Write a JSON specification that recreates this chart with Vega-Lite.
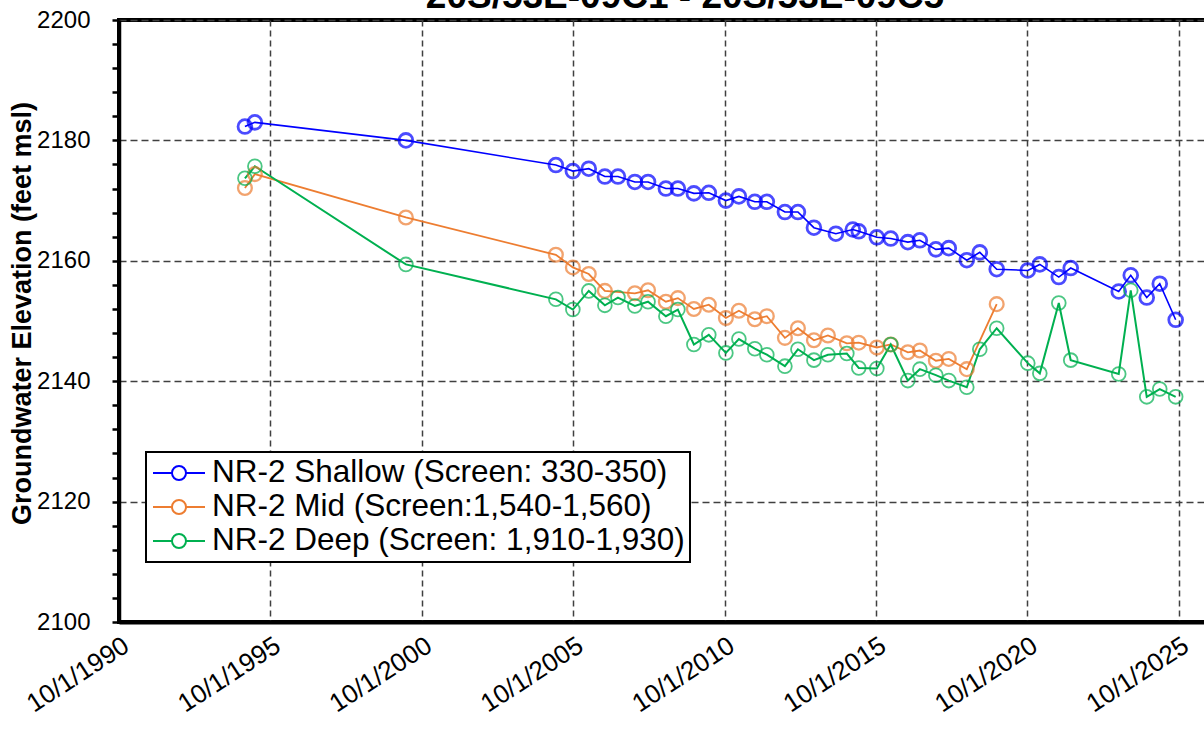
{
  "$schema": "https://vega.github.io/schema/vega-lite/v6.json",
  "autosize": {"type": "none"},
  "padding": {"left": 119, "top": 20, "right": -5, "bottom": 108},
  "width": 1090,
  "height": 602,
  "background": "white",
  "config": {
    "font": "Liberation Sans",
    "view": {"stroke": "black", "strokeWidth": 4}
  },
  "title": {
    "text": "20S/53E-09C1 - 20S/53E-09C5",
    "font": "Liberation Sans",
    "fontSize": 37,
    "fontWeight": "bold",
    "color": "black",
    "anchor": "middle",
    "frame": "group",
    "dx": 21,
    "baseline": "alphabetic",
    "offset": -37
  },
  "data": {
    "values": [
      {"series": "NR-2 Shallow (Screen: 330-350)", "date": "1994-11-28", "elev": 2182.3},
      {"series": "NR-2 Shallow (Screen: 330-350)", "date": "1995-03-28", "elev": 2183.0},
      {"series": "NR-2 Shallow (Screen: 330-350)", "date": "2000-03-23", "elev": 2180.0},
      {"series": "NR-2 Shallow (Screen: 330-350)", "date": "2005-03-06", "elev": 2175.9},
      {"series": "NR-2 Shallow (Screen: 330-350)", "date": "2005-09-27", "elev": 2174.9},
      {"series": "NR-2 Shallow (Screen: 330-350)", "date": "2006-04-07", "elev": 2175.3},
      {"series": "NR-2 Shallow (Screen: 330-350)", "date": "2006-10-18", "elev": 2174.0},
      {"series": "NR-2 Shallow (Screen: 330-350)", "date": "2007-03-25", "elev": 2174.0},
      {"series": "NR-2 Shallow (Screen: 330-350)", "date": "2007-10-15", "elev": 2173.1},
      {"series": "NR-2 Shallow (Screen: 330-350)", "date": "2008-03-22", "elev": 2173.1},
      {"series": "NR-2 Shallow (Screen: 330-350)", "date": "2008-10-23", "elev": 2172.0},
      {"series": "NR-2 Shallow (Screen: 330-350)", "date": "2009-03-17", "elev": 2172.0},
      {"series": "NR-2 Shallow (Screen: 330-350)", "date": "2009-09-26", "elev": 2171.2},
      {"series": "NR-2 Shallow (Screen: 330-350)", "date": "2010-03-25", "elev": 2171.3},
      {"series": "NR-2 Shallow (Screen: 330-350)", "date": "2010-10-17", "elev": 2170.0},
      {"series": "NR-2 Shallow (Screen: 330-350)", "date": "2011-03-23", "elev": 2170.7},
      {"series": "NR-2 Shallow (Screen: 330-350)", "date": "2011-10-01", "elev": 2169.8},
      {"series": "NR-2 Shallow (Screen: 330-350)", "date": "2012-02-23", "elev": 2169.8},
      {"series": "NR-2 Shallow (Screen: 330-350)", "date": "2012-09-28", "elev": 2168.1},
      {"series": "NR-2 Shallow (Screen: 330-350)", "date": "2013-03-04", "elev": 2168.1},
      {"series": "NR-2 Shallow (Screen: 330-350)", "date": "2013-09-13", "elev": 2165.5},
      {"series": "NR-2 Shallow (Screen: 330-350)", "date": "2014-06-05", "elev": 2164.5},
      {"series": "NR-2 Shallow (Screen: 330-350)", "date": "2014-12-26", "elev": 2165.2},
      {"series": "NR-2 Shallow (Screen: 330-350)", "date": "2015-03-08", "elev": 2164.9},
      {"series": "NR-2 Shallow (Screen: 330-350)", "date": "2015-10-12", "elev": 2163.9},
      {"series": "NR-2 Shallow (Screen: 330-350)", "date": "2016-03-28", "elev": 2163.7},
      {"series": "NR-2 Shallow (Screen: 330-350)", "date": "2016-10-20", "elev": 2163.1},
      {"series": "NR-2 Shallow (Screen: 330-350)", "date": "2017-03-14", "elev": 2163.4},
      {"series": "NR-2 Shallow (Screen: 330-350)", "date": "2017-09-23", "elev": 2161.9},
      {"series": "NR-2 Shallow (Screen: 330-350)", "date": "2018-02-26", "elev": 2162.1},
      {"series": "NR-2 Shallow (Screen: 330-350)", "date": "2018-10-01", "elev": 2160.1},
      {"series": "NR-2 Shallow (Screen: 330-350)", "date": "2019-03-07", "elev": 2161.4},
      {"series": "NR-2 Shallow (Screen: 330-350)", "date": "2019-09-27", "elev": 2158.6},
      {"series": "NR-2 Shallow (Screen: 330-350)", "date": "2020-10-06", "elev": 2158.4},
      {"series": "NR-2 Shallow (Screen: 330-350)", "date": "2021-02-28", "elev": 2159.4},
      {"series": "NR-2 Shallow (Screen: 330-350)", "date": "2021-10-15", "elev": 2157.3},
      {"series": "NR-2 Shallow (Screen: 330-350)", "date": "2022-03-08", "elev": 2158.8},
      {"series": "NR-2 Shallow (Screen: 330-350)", "date": "2023-10-08", "elev": 2154.9},
      {"series": "NR-2 Shallow (Screen: 330-350)", "date": "2024-03-01", "elev": 2157.6},
      {"series": "NR-2 Shallow (Screen: 330-350)", "date": "2024-09-10", "elev": 2153.9},
      {"series": "NR-2 Shallow (Screen: 330-350)", "date": "2025-02-14", "elev": 2156.2},
      {"series": "NR-2 Shallow (Screen: 330-350)", "date": "2025-08-25", "elev": 2150.2},

      {"series": "NR-2 Mid (Screen:1,540-1,560)", "date": "1994-11-28", "elev": 2172.1},
      {"series": "NR-2 Mid (Screen:1,540-1,560)", "date": "1995-03-28", "elev": 2174.4},
      {"series": "NR-2 Mid (Screen:1,540-1,560)", "date": "2000-03-23", "elev": 2167.2},
      {"series": "NR-2 Mid (Screen:1,540-1,560)", "date": "2005-03-06", "elev": 2161.0},
      {"series": "NR-2 Mid (Screen:1,540-1,560)", "date": "2005-09-27", "elev": 2158.9},
      {"series": "NR-2 Mid (Screen:1,540-1,560)", "date": "2006-04-07", "elev": 2157.8},
      {"series": "NR-2 Mid (Screen:1,540-1,560)", "date": "2006-10-18", "elev": 2155.0},
      {"series": "NR-2 Mid (Screen:1,540-1,560)", "date": "2007-10-15", "elev": 2154.6},
      {"series": "NR-2 Mid (Screen:1,540-1,560)", "date": "2008-03-22", "elev": 2155.1},
      {"series": "NR-2 Mid (Screen:1,540-1,560)", "date": "2008-10-23", "elev": 2153.2},
      {"series": "NR-2 Mid (Screen:1,540-1,560)", "date": "2009-03-17", "elev": 2153.8},
      {"series": "NR-2 Mid (Screen:1,540-1,560)", "date": "2009-09-26", "elev": 2152.0},
      {"series": "NR-2 Mid (Screen:1,540-1,560)", "date": "2010-03-25", "elev": 2152.7},
      {"series": "NR-2 Mid (Screen:1,540-1,560)", "date": "2010-10-17", "elev": 2150.5},
      {"series": "NR-2 Mid (Screen:1,540-1,560)", "date": "2011-03-23", "elev": 2151.7},
      {"series": "NR-2 Mid (Screen:1,540-1,560)", "date": "2011-10-01", "elev": 2150.3},
      {"series": "NR-2 Mid (Screen:1,540-1,560)", "date": "2012-02-23", "elev": 2150.8},
      {"series": "NR-2 Mid (Screen:1,540-1,560)", "date": "2012-09-28", "elev": 2147.2},
      {"series": "NR-2 Mid (Screen:1,540-1,560)", "date": "2013-03-04", "elev": 2148.8},
      {"series": "NR-2 Mid (Screen:1,540-1,560)", "date": "2013-09-13", "elev": 2146.8},
      {"series": "NR-2 Mid (Screen:1,540-1,560)", "date": "2014-03-01", "elev": 2147.6},
      {"series": "NR-2 Mid (Screen:1,540-1,560)", "date": "2014-10-15", "elev": 2146.3},
      {"series": "NR-2 Mid (Screen:1,540-1,560)", "date": "2015-03-08", "elev": 2146.4},
      {"series": "NR-2 Mid (Screen:1,540-1,560)", "date": "2015-10-12", "elev": 2145.6},
      {"series": "NR-2 Mid (Screen:1,540-1,560)", "date": "2016-03-28", "elev": 2146.1},
      {"series": "NR-2 Mid (Screen:1,540-1,560)", "date": "2016-10-20", "elev": 2144.8},
      {"series": "NR-2 Mid (Screen:1,540-1,560)", "date": "2017-03-14", "elev": 2145.1},
      {"series": "NR-2 Mid (Screen:1,540-1,560)", "date": "2017-09-23", "elev": 2143.4},
      {"series": "NR-2 Mid (Screen:1,540-1,560)", "date": "2018-02-26", "elev": 2143.7},
      {"series": "NR-2 Mid (Screen:1,540-1,560)", "date": "2018-10-01", "elev": 2142.0},
      {"series": "NR-2 Mid (Screen:1,540-1,560)", "date": "2019-09-27", "elev": 2152.8},

      {"series": "NR-2 Deep (Screen: 1,910-1,930)", "date": "1994-11-28", "elev": 2173.7},
      {"series": "NR-2 Deep (Screen: 1,910-1,930)", "date": "1995-03-28", "elev": 2175.7},
      {"series": "NR-2 Deep (Screen: 1,910-1,930)", "date": "2000-03-23", "elev": 2159.4},
      {"series": "NR-2 Deep (Screen: 1,910-1,930)", "date": "2005-03-06", "elev": 2153.6},
      {"series": "NR-2 Deep (Screen: 1,910-1,930)", "date": "2005-09-27", "elev": 2151.9},
      {"series": "NR-2 Deep (Screen: 1,910-1,930)", "date": "2006-04-07", "elev": 2155.0},
      {"series": "NR-2 Deep (Screen: 1,910-1,930)", "date": "2006-10-18", "elev": 2152.6},
      {"series": "NR-2 Deep (Screen: 1,910-1,930)", "date": "2007-03-25", "elev": 2153.9},
      {"series": "NR-2 Deep (Screen: 1,910-1,930)", "date": "2007-10-15", "elev": 2152.5},
      {"series": "NR-2 Deep (Screen: 1,910-1,930)", "date": "2008-03-22", "elev": 2153.2},
      {"series": "NR-2 Deep (Screen: 1,910-1,930)", "date": "2008-10-23", "elev": 2150.8},
      {"series": "NR-2 Deep (Screen: 1,910-1,930)", "date": "2009-03-17", "elev": 2151.9},
      {"series": "NR-2 Deep (Screen: 1,910-1,930)", "date": "2009-09-26", "elev": 2146.1},
      {"series": "NR-2 Deep (Screen: 1,910-1,930)", "date": "2010-03-25", "elev": 2147.7},
      {"series": "NR-2 Deep (Screen: 1,910-1,930)", "date": "2010-10-17", "elev": 2144.7},
      {"series": "NR-2 Deep (Screen: 1,910-1,930)", "date": "2011-03-23", "elev": 2147.0},
      {"series": "NR-2 Deep (Screen: 1,910-1,930)", "date": "2011-10-01", "elev": 2145.4},
      {"series": "NR-2 Deep (Screen: 1,910-1,930)", "date": "2012-02-23", "elev": 2144.4},
      {"series": "NR-2 Deep (Screen: 1,910-1,930)", "date": "2012-09-28", "elev": 2142.5},
      {"series": "NR-2 Deep (Screen: 1,910-1,930)", "date": "2013-03-04", "elev": 2145.3},
      {"series": "NR-2 Deep (Screen: 1,910-1,930)", "date": "2013-09-13", "elev": 2143.5},
      {"series": "NR-2 Deep (Screen: 1,910-1,930)", "date": "2014-03-01", "elev": 2144.4},
      {"series": "NR-2 Deep (Screen: 1,910-1,930)", "date": "2014-10-15", "elev": 2144.6},
      {"series": "NR-2 Deep (Screen: 1,910-1,930)", "date": "2015-03-08", "elev": 2142.2},
      {"series": "NR-2 Deep (Screen: 1,910-1,930)", "date": "2015-10-12", "elev": 2142.1},
      {"series": "NR-2 Deep (Screen: 1,910-1,930)", "date": "2016-03-28", "elev": 2146.1},
      {"series": "NR-2 Deep (Screen: 1,910-1,930)", "date": "2016-10-20", "elev": 2140.1},
      {"series": "NR-2 Deep (Screen: 1,910-1,930)", "date": "2017-03-14", "elev": 2142.0},
      {"series": "NR-2 Deep (Screen: 1,910-1,930)", "date": "2017-09-23", "elev": 2141.0},
      {"series": "NR-2 Deep (Screen: 1,910-1,930)", "date": "2018-02-26", "elev": 2140.1},
      {"series": "NR-2 Deep (Screen: 1,910-1,930)", "date": "2018-10-01", "elev": 2139.0},
      {"series": "NR-2 Deep (Screen: 1,910-1,930)", "date": "2019-03-07", "elev": 2145.3},
      {"series": "NR-2 Deep (Screen: 1,910-1,930)", "date": "2019-09-27", "elev": 2148.8},
      {"series": "NR-2 Deep (Screen: 1,910-1,930)", "date": "2020-10-06", "elev": 2143.0},
      {"series": "NR-2 Deep (Screen: 1,910-1,930)", "date": "2021-02-28", "elev": 2141.3},
      {"series": "NR-2 Deep (Screen: 1,910-1,930)", "date": "2021-10-15", "elev": 2153.0},
      {"series": "NR-2 Deep (Screen: 1,910-1,930)", "date": "2022-03-08", "elev": 2143.5},
      {"series": "NR-2 Deep (Screen: 1,910-1,930)", "date": "2023-10-08", "elev": 2141.2},
      {"series": "NR-2 Deep (Screen: 1,910-1,930)", "date": "2024-03-01", "elev": 2155.1},
      {"series": "NR-2 Deep (Screen: 1,910-1,930)", "date": "2024-09-10", "elev": 2137.4},
      {"series": "NR-2 Deep (Screen: 1,910-1,930)", "date": "2025-02-14", "elev": 2138.7},
      {"series": "NR-2 Deep (Screen: 1,910-1,930)", "date": "2025-08-25", "elev": 2137.4}
    ]
  },
  "encoding": {
    "x": {
      "field": "date",
      "type": "temporal",
      "scale": {
        "type": "utc",
        "domain": [
          {"year": 1990, "month": 10, "date": 1, "utc": true},
          {"year": 2026, "month": 10, "date": 1, "utc": true}
        ]
      },
      "axis": {
        "title": null,
        "values": [
          {"year": 1990, "month": 10, "date": 1, "utc": true},
          {"year": 1995, "month": 10, "date": 1, "utc": true},
          {"year": 2000, "month": 10, "date": 1, "utc": true},
          {"year": 2005, "month": 10, "date": 1, "utc": true},
          {"year": 2010, "month": 10, "date": 1, "utc": true},
          {"year": 2015, "month": 10, "date": 1, "utc": true},
          {"year": 2020, "month": 10, "date": 1, "utc": true},
          {"year": 2025, "month": 10, "date": 1, "utc": true}
        ],
        "labelExpr": "utcFormat(datum.value, '%-m/%-d/%Y')",
        "labelAngle": -33,
        "labelFont": "Liberation Sans",
        "labelFontSize": 26,
        "labelColor": "black",
        "labelPadding": 10,
        "labelBound": false,
        "labelOverlap": false,
        "labelFlush": false,
        "ticks": false,
        "domainColor": "black",
        "domainWidth": 4,
        "grid": true,
        "gridColor": "#404040",
        "gridDash": [6, 4],
        "gridWidth": 1.5
      }
    },
    "y": {
      "field": "elev",
      "type": "quantitative",
      "scale": {"domain": [2100, 2200], "nice": false, "zero": false},
      "axis": {
        "title": "Groundwater Elevation (feet msl)",
        "titleFont": "Liberation Sans",
        "titleFontSize": 27,
        "titleFontWeight": "bold",
        "titleColor": "black",
        "titleX": -97,
        "titleY": 293,
        "titleAngle": 270,
        "titleAlign": "center",
        "titleBaseline": "middle",
        "values": [2100, 2104, 2108, 2112, 2116, 2120, 2124, 2128, 2132, 2136, 2140, 2144, 2148, 2152, 2156, 2160, 2164, 2168, 2172, 2176, 2180, 2184, 2188, 2192, 2196, 2200],
        "labelExpr": "datum.value % 20 === 0 ? '' + datum.value : ''",
        "labelFont": "Liberation Sans",
        "labelFontSize": 24,
        "labelColor": "black",
        "labelPadding": 22,
        "labelOverlap": false,
        "labelBound": false,
        "tickSize": 7,
        "tickWidth": 2.5,
        "tickColor": "black",
        "domainColor": "black",
        "domainWidth": 3.5,
        "grid": true,
        "gridColor": "#404040",
        "gridDash": [7, 4],
        "gridWidth": 1.5,
        "gridOpacity": {"condition": {"test": "datum.value % 20 === 0", "value": 1}, "value": 0}
      }
    },
    "color": {
      "field": "series",
      "type": "nominal",
      "scale": {
        "domain": ["NR-2 Shallow (Screen: 330-350)", "NR-2 Mid (Screen:1,540-1,560)", "NR-2 Deep (Screen: 1,910-1,930)"],
        "range": ["#0000FF", "#ED7D31", "#00B050"]
      },
      "legend": {
        "title": null,
        "orient": "none",
        "legendX": 27,
        "legendY": 432,
        "direction": "vertical",
        "fillColor": "white",
        "strokeColor": "black",
        "padding": 5,
        "rowPadding": 2,
        "labelFont": "Liberation Sans",
        "labelFontSize": 31.5,
        "labelColor": "black",
        "labelOffset": 17,
        "labelLimit": 800,
        "symbolType": "M-1.733,0L-0.467,0M0.467,0L1.733,0M0.467,0A0.467,0.467 0 1 1 -0.467,0A0.467,0.467 0 1 1 0.467,0",
        "symbolSize": 900,
        "symbolOffset": 12,
        "symbolStrokeWidth": 2,
        "symbolFillColor": "transparent",
        "encode": {
          "legend": {"update": {"strokeWidth": {"value": 2}}}
        }
      }
    }
  },
  "layer": [
    {
      "mark": {"type": "line", "clip": true},
      "encoding": {
        "strokeWidth": {
          "field": "series",
          "type": "nominal",
          "scale": {
            "domain": ["NR-2 Shallow (Screen: 330-350)", "NR-2 Mid (Screen:1,540-1,560)", "NR-2 Deep (Screen: 1,910-1,930)"],
            "range": [1.6, 2, 2]
          },
          "legend": null
        }
      }
    },
    {
      "mark": {"type": "point", "shape": "circle", "filled": false, "size": 190, "clip": true},
      "encoding": {
        "strokeWidth": {
          "field": "series",
          "type": "nominal",
          "scale": {
            "domain": ["NR-2 Shallow (Screen: 330-350)", "NR-2 Mid (Screen:1,540-1,560)", "NR-2 Deep (Screen: 1,910-1,930)"],
            "range": [2.8, 1.8, 1.8]
          },
          "legend": null
        }
      }
    }
  ],
  "resolve": {"scale": {"strokeWidth": "independent"}}
}
